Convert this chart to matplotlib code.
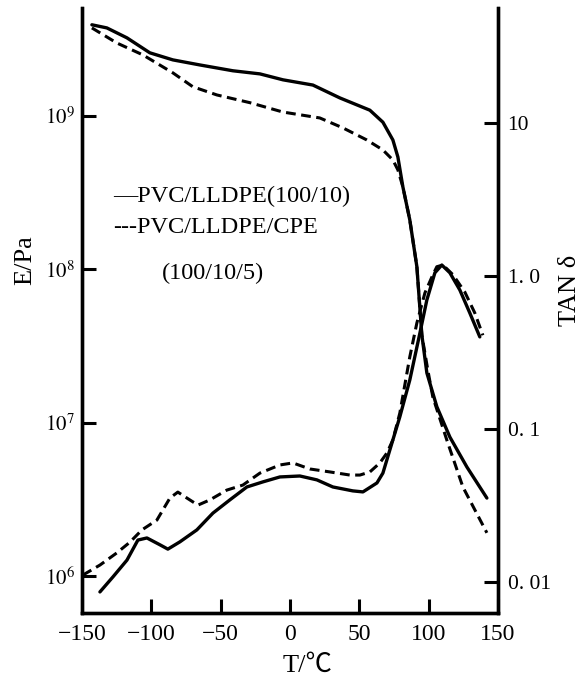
import numpy as np
from matplotlib import pyplot as plt
from matplotlib.ticker import NullLocator

plt.rcParams['font.family'] = ['Liberation Serif', 'Noto Sans CJK SC', 'DejaVu Sans']
plt.rcParams['mathtext.fontset'] = 'stix'

# storage modulus E (Pa)
t_e1 = [-142.8, -132.0, -117.5, -101.0, -84.4, -64.9, -41.1, -21.6, -5.0, 16.6, 36.1,
        57.7, 67.1, 74.3, 77.9, 81.5, 86.5, 91.6, 95.2, 98.8, 106.0, 115.4, 127.7, 142.1]
e1 = [3.93e9, 3.75e9, 3.23e9, 2.58e9, 2.32e9, 2.15e9, 1.97e9, 1.88e9, 1.72e9, 1.59e9, 1.31e9,
      1.09e9, 9.1e8, 6.97e8, 5.4e8, 3.45e8, 2.1e8, 1.04e8, 3.72e7, 2.11e7, 1.27e7, 8.05e6, 5.13e6, 3.22e6]

t_e2 = [-142.8, -124.8, -106.0, -84.4, -70.0, -52.6, -28.8, -5.0, 21.6, 38.2, 55.5, 67.1,
        74.3, 77.9, 81.5, 86.5, 91.6, 95.2, 99.5, 103.1, 113.2, 124.8, 142.1]
e2 = [3.75e9, 2.99e9, 2.50e9, 1.91e9, 1.55e9, 1.37e9, 1.22e9, 1.06e9, 9.7e8, 8.36e8, 6.97e8, 6.0e8,
      5.16e8, 4.45e8, 3.45e8, 2.1e8, 1.04e8, 3.72e7, 2.2e7, 1.47e7, 7.7e6, 3.8e6, 1.91e6]

# loss tangent
t_d1 = [-137.0, -127.6, -117.5, -109.6, -103.1, -93.7, -88.0, -79.3, -67.1, -55.5, -43.3, -31.0,
        -19.5, -7.2, 7.2, 19.5, 31.0, 45.4, 52.7, 62.8, 67.1, 72.1, 79.3, 86.5, 93.8, 98.8,
        104.6, 109.6, 115.4, 122.6, 129.8, 137.0]
d1 = [0.00861, 0.0108, 0.0139, 0.0188, 0.0194, 0.0175, 0.0164, 0.0183, 0.0219, 0.0282, 0.0344, 0.0418,
      0.0451, 0.0486, 0.0493, 0.0465, 0.0418, 0.0394, 0.0388, 0.0444, 0.0515, 0.0729, 0.120, 0.209, 0.424, 0.697,
      1.05, 1.18, 1.05, 0.81, 0.573, 0.40]

t_d2 = [-149.3, -137.0, -124.8, -115.4, -106.7, -95.9, -86.5, -80.8, -74.3, -66.3, -57.7, -45.4,
        -33.9, -21.6, -7.2, 2.2, 14.4, 28.9, 43.3, 50.5, 57.7, 64.9, 70.0, 74.3, 79.3, 86.5,
        91.6, 97.4, 102.4, 106.0, 110.4, 117.6, 126.2, 133.4, 139.2]
d2 = [0.0111, 0.0129, 0.0155, 0.0182, 0.0219, 0.0254, 0.0354, 0.0387, 0.0354, 0.0318, 0.0344, 0.0399,
      0.0430, 0.0515, 0.0582, 0.060, 0.0548, 0.0524, 0.050, 0.050, 0.0524, 0.060, 0.0697, 0.0848, 0.127, 0.296,
      0.493, 0.775, 0.984, 1.15, 1.18, 1.02, 0.785, 0.573, 0.41]

x_ticks = [-150, -100, -50, 0, 50, 100, 150]
e_ticks = [1e6, 1e7, 1e8, 1e9]
e_labels = [r'$10^{6}$', r'$10^{7}$', r'$10^{8}$', r'$10^{9}$']
d_ticks = [0.01, 0.1, 1.0, 10]
d_labels = ['0. 01', '0. 1', '1. 0', '10']

fig = plt.figure(figsize=(5.85, 6.86), dpi=100)
ax = fig.add_axes([0.140, 0.1064, 0.711, 0.882])
ax2 = ax.twinx()

dash = (0, (3.2, 1.8))
ax.plot(t_e1, e1, color='black', lw=2.4, solid_capstyle='round')
ax.plot(t_e2, e2, color='black', lw=2.2, linestyle=dash)
ax2.plot(t_d1, d1, color='black', lw=2.4, solid_capstyle='round')
ax2.plot(t_d2, d2, color='black', lw=2.2, linestyle=dash)

ax.set_xlim(-150, 150)
ax.set_yscale('log')
ax.set_ylim(5.73e5, 5.06e9)
ax2.set_yscale('log')
ax2.set_ylim(0.00627, 56.5)

ax.set_xticks(x_ticks)
ax.set_xticklabels([str(v).replace('-', '\u2212') for v in x_ticks])
ax.set_yticks(e_ticks)
ax.set_yticklabels(e_labels)
ax.yaxis.set_minor_locator(NullLocator())
ax2.set_yticks(d_ticks)
ax2.set_yticklabels(d_labels)
ax2.yaxis.set_minor_locator(NullLocator())

for a in (ax, ax2):
    a.spines['top'].set_visible(False)
    for s in ('left', 'right', 'bottom'):
        a.spines[s].set_linewidth(2.4)
    a.tick_params(direction='in', length=10, width=2.2, pad=7)
ax.tick_params(axis='x', labelsize=17, pad=8)
ax.tick_params(axis='y', labelsize=15, pad=5)
ax2.tick_params(axis='y', labelsize=15.5)

fig.text(0.043, 0.621, 'E/Pa', rotation=90, ha='center', va='center', fontsize=19)
fig.text(0.975, 0.577, 'TAN \u03b4', rotation=90, ha='center', va='center', fontsize=19)
fig.text(0.525, 0.029, 'T/\u2103', ha='center', va='center', fontsize=19)

fig.text(0.193, 0.713, '\u2014PVC/LLDPE(100/10)', ha='left', va='center', fontsize=17.5)
fig.text(0.193, 0.668, '---PVC/LLDPE/CPE', ha='left', va='center', fontsize=17.5)
fig.text(0.277, 0.602, '(100/10/5)', ha='left', va='center', fontsize=17.5)

plt.savefig('out.png', dpi=100)
